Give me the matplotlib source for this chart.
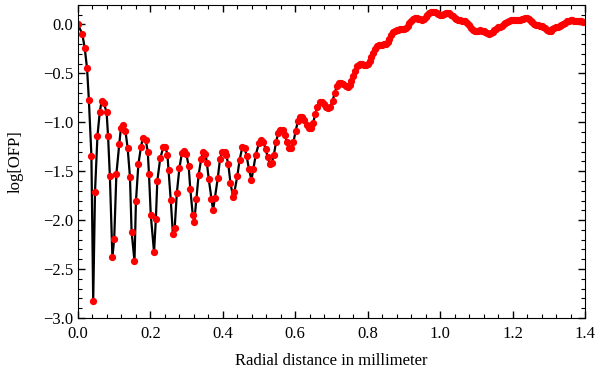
import numpy as np
import matplotlib.pyplot as plt
from matplotlib.ticker import MultipleLocator

# radial distance (mm) and log[OFP]
r_near = [0.000, 0.012, 0.0185, 0.025, 0.030, 0.037, 0.042, 0.047, 0.0537, 0.060,
          0.065, 0.071, 0.079, 0.083, 0.088, 0.095, 0.100, 0.106, 0.114, 0.1185,
          0.125, 0.131, 0.137, 0.1435, 0.148, 0.156, 0.160, 0.1667, 0.174, 0.179,
          0.187, 0.1926, 0.196, 0.201, 0.210, 0.215, 0.219, 0.227, 0.236, 0.241,
          0.247, 0.250, 0.256, 0.262, 0.267, 0.273, 0.280, 0.287, 0.2935, 0.299,
          0.3056, 0.310, 0.317, 0.321, 0.327, 0.333, 0.340, 0.345, 0.352, 0.356,
          0.361, 0.3685, 0.373, 0.378, 0.386, 0.392, 0.398, 0.405, 0.409, 0.415,
          0.421, 0.428, 0.432, 0.440, 0.446, 0.454, 0.460, 0.466, 0.472, 0.479,
          0.484, 0.491, 0.500]
ofp_near = [0.00, -0.10, -0.24, -0.45, -0.77, -1.34, -2.83, -1.71, -1.14, -0.90,
            -0.785, -0.80, -0.90, -1.14, -1.55, -2.38, -2.19, -1.53, -1.22, -1.06,
            -1.03, -1.09, -1.26, -1.56, -2.12, -2.42, -1.81, -1.43, -1.25, -1.16,
            -1.18, -1.30, -1.53, -1.95, -2.33, -1.99, -1.60, -1.37, -1.25, -1.25,
            -1.33, -1.49, -1.79, -2.14, -2.08, -1.72, -1.47, -1.31, -1.29, -1.32,
            -1.45, -1.68, -1.95, -2.02, -1.78, -1.54, -1.38, -1.30, -1.32, -1.42,
            -1.58, -1.785, -1.90, -1.77, -1.57, -1.38, -1.30, -1.30, -1.33, -1.43,
            -1.62, -1.76, -1.71, -1.55, -1.39, -1.25, -1.26, -1.35, -1.48, -1.59,
            -1.48, -1.33, -1.21]

r_mid = [0.506, 0.512, 0.518, 0.524, 0.530, 0.535, 0.541, 0.547, 0.553, 0.559,
         0.565, 0.571, 0.577, 0.583, 0.589, 0.595, 0.601, 0.607, 0.613, 0.619,
         0.625, 0.631, 0.637, 0.643, 0.649, 0.655, 0.661, 0.667, 0.673, 0.679,
         0.685, 0.691, 0.697, 0.703, 0.709, 0.715, 0.721, 0.727, 0.733, 0.739,
         0.745, 0.751]
ofp_mid = [-1.18, -1.20, -1.27, -1.36, -1.43, -1.42, -1.33, -1.20, -1.11, -1.08,
           -1.08, -1.13, -1.20, -1.26, -1.26, -1.20, -1.09, -0.99, -0.95, -0.95,
           -0.98, -1.03, -1.06, -1.06, -1.01, -0.92, -0.84, -0.79, -0.79, -0.81,
           -0.84, -0.85, -0.84, -0.78, -0.70, -0.63, -0.60, -0.60, -0.61, -0.63,
           -0.64, -0.62]

r_far = [0.755, 0.760, 0.765, 0.770, 0.775, 0.780, 0.785, 0.790, 0.795, 0.800,
         0.805, 0.810, 0.815, 0.820, 0.825, 0.830, 0.835, 0.840, 0.845, 0.850,
         0.855, 0.860, 0.865, 0.870, 0.875, 0.880, 0.885, 0.890, 0.895, 0.900,
         0.905, 0.910, 0.915, 0.920, 0.925, 0.930, 0.935, 0.940, 0.945, 0.950,
         0.955, 0.960, 0.965, 0.970, 0.975, 0.980, 0.985, 0.990, 0.995, 1.000,
         1.005, 1.010, 1.015, 1.020, 1.025, 1.030, 1.035, 1.040, 1.045, 1.050,
         1.055, 1.060, 1.065, 1.070, 1.075, 1.080, 1.085, 1.090, 1.095, 1.100,
         1.105, 1.110, 1.115, 1.120, 1.125, 1.130, 1.135, 1.140, 1.145, 1.150,
         1.155, 1.160, 1.165, 1.170, 1.175, 1.180, 1.185, 1.190, 1.195, 1.200,
         1.205, 1.210, 1.215, 1.220, 1.225, 1.230, 1.235, 1.240, 1.245, 1.250,
         1.255, 1.260, 1.265, 1.270, 1.275, 1.280, 1.285, 1.290, 1.295, 1.300,
         1.305, 1.310, 1.315, 1.320, 1.325, 1.330, 1.335, 1.340, 1.345, 1.350,
         1.355, 1.360, 1.365, 1.370, 1.375, 1.380, 1.385, 1.390, 1.395, 1.400]
ofp_far = [-0.58, -0.53, -0.48, -0.43, -0.41, -0.40, -0.40, -0.41, -0.41, -0.40,
           -0.37, -0.33, -0.29, -0.25, -0.22, -0.21, -0.21, -0.21, -0.205, -0.20,
           -0.18, -0.15, -0.11, -0.08, -0.07, -0.06, -0.055, -0.05, -0.05, -0.05,
           -0.04, -0.02, 0.01, 0.04, 0.06, 0.07, 0.065, 0.06, 0.055, 0.05,
           0.06, 0.08, 0.10, 0.12, 0.125, 0.13, 0.125, 0.12, 0.11, 0.10,
           0.10, 0.11, 0.115, 0.12, 0.115, 0.10, 0.085, 0.07, 0.06, 0.05,
           0.045, 0.04, 0.035, 0.03, 0.01, -0.01, -0.035, -0.06, -0.07, -0.07,
           -0.065, -0.06, -0.065, -0.07, -0.08, -0.09, -0.095, -0.09, -0.08, -0.06,
           -0.045, -0.03, -0.025, -0.02, 0.00, 0.01, 0.025, 0.04, 0.045, 0.05,
           0.05, 0.05, 0.05, 0.05, 0.055, 0.06, 0.065, 0.07, 0.06, 0.04,
           0.02, 0.00, -0.01, -0.01, -0.015, -0.02, -0.025, -0.04, -0.055, -0.07,
           -0.065, -0.05, -0.035, -0.03, -0.025, -0.02, -0.01, 0.00, 0.015, 0.03,
           0.04, 0.05, 0.05, 0.04, 0.035, 0.03, 0.03, 0.03, 0.025, 0.02]

r = r_near + r_mid + r_far
ofp = ofp_near + ofp_mid + ofp_far

plt.rcParams['font.family'] = 'Liberation Serif'

fig = plt.figure(figsize=(6, 3.74), dpi=100)
ax = fig.add_axes([0.13, 0.15, 0.845, 0.837])

ax.plot(r, ofp, color='black', lw=1.6, zorder=1)
ax.plot(r, ofp, 'o', color='red', ms=4.2, mec='red', zorder=2)

ax.set_xlim(0, 1.4)
ax.set_ylim(-3.0, 0.2)
ax.xaxis.set_major_locator(MultipleLocator(0.2))
ax.xaxis.set_minor_locator(MultipleLocator(0.04))
ax.yaxis.set_major_locator(MultipleLocator(0.5))
ax.yaxis.set_minor_locator(MultipleLocator(0.1))
ax.tick_params(which='both', direction='in', top=True, right=True, labelsize=12)
ax.tick_params(axis='x', which='major', pad=6)
ax.tick_params(which='major', length=5, width=1)
ax.tick_params(which='minor', length=3, width=0.8)

ax.set_xlabel('Radial distance in millimeter', fontsize=12, labelpad=8)
ax.set_ylabel('log[OFP]', fontsize=12, labelpad=14)

fig.savefig('out.png', dpi=100)
